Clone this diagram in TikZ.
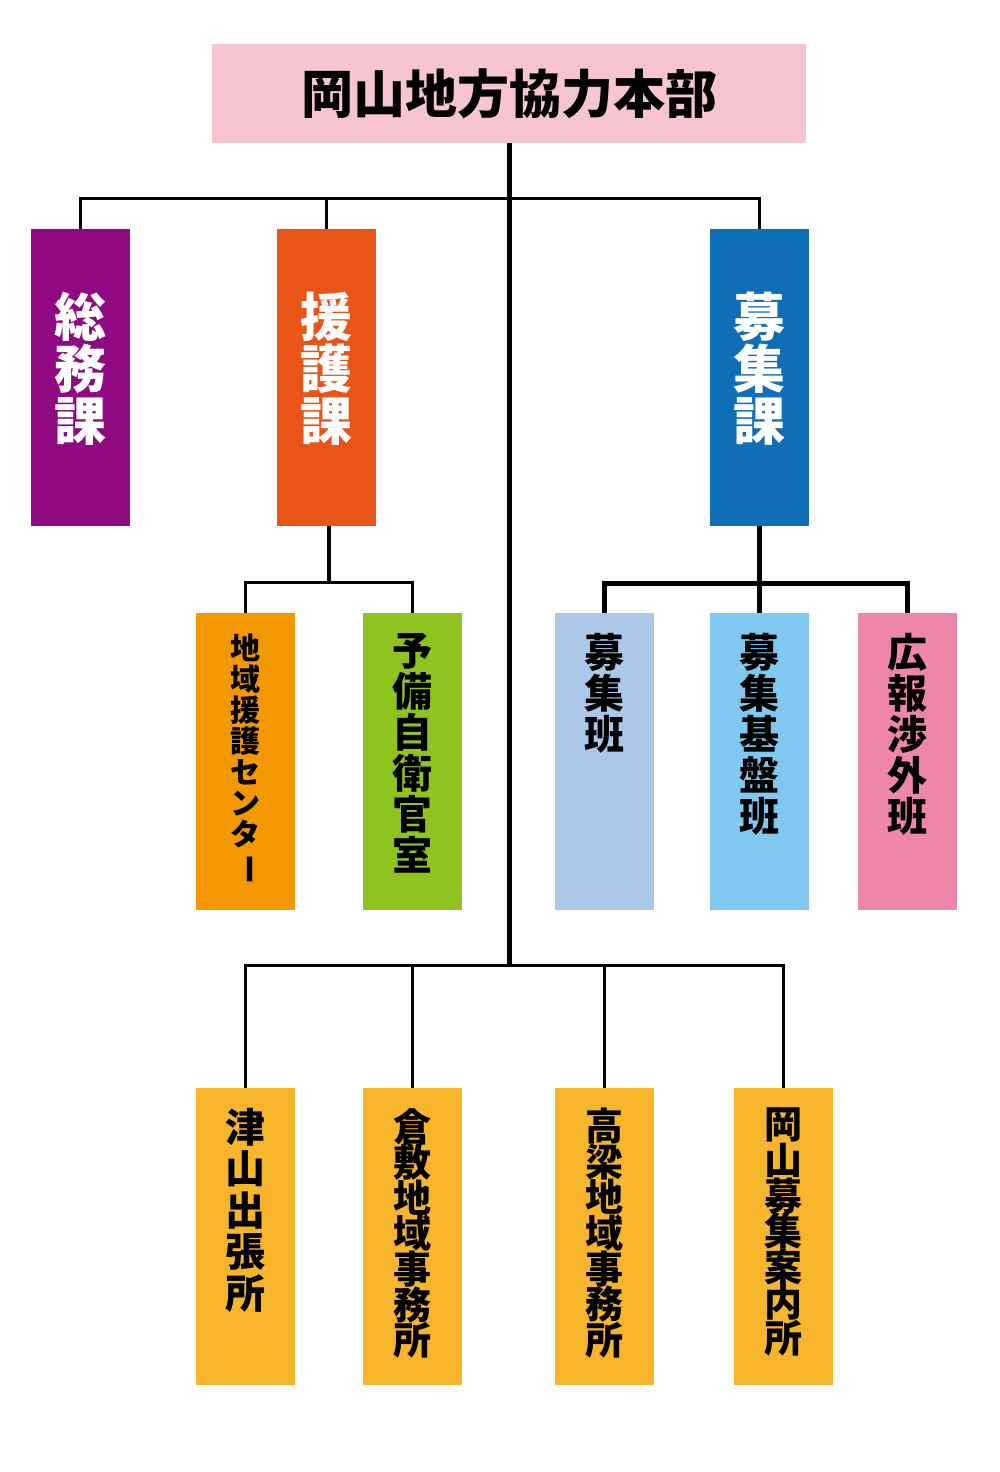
\documentclass[tikz,border=0pt]{standalone}
\usepackage{fontspec}
\newfontfamily\cjk{Noto Sans CJK JP}
\usetikzlibrary{positioning}
\setlength{\lineskiplimit}{-100pt}

\definecolor{hqpink}{HTML}{F7C5D0}
\definecolor{soumucol}{HTML}{8F0A81}
\definecolor{engocol}{HTML}{E95516}
\definecolor{boshucol}{HTML}{0F6EB6}
\definecolor{chiikicol}{HTML}{F39800}
\definecolor{yobicol}{HTML}{8FC31F}
\definecolor{hancol}{HTML}{ABC8E8}
\definecolor{kibancol}{HTML}{80C8F0}
\definecolor{kohocol}{HTML}{EE86A7}
\definecolor{jimucol}{HTML}{F7B52C}

\newcommand{\tatefont}[2]{\cjk\bfseries\fontsize{#1}{#2}\selectfont}

\begin{document}
\begin{tikzpicture}[x=1pt,y=-1pt,
    unit/.style={rectangle, anchor=north, inner sep=0pt, minimum width=99pt, minimum height=297pt},
    tate/.style={anchor=north, align=center, inner sep=0pt},
    link/.style={line width=3pt},
    boldlink/.style={line width=5pt}]
    \useasboundingbox [fill=white] (0,0) rectangle (1000,1472);

    % honbu
    \node [rectangle, fill=hqpink, anchor=north, inner sep=0pt,
        minimum width=594pt, minimum height=99pt,
        font=\tatefont{52}{52}] (honbu) at (509,44) {岡山地方協力本部};

    % ka
    \node [unit, fill=soumucol] (soumu) at (80.5,229) {};
    \node [unit, fill=engocol] (engo) at (326,229) {};
    \node [unit, fill=boshucol] (boshu) at (759.5,229) {};
    \foreach \k/\t in {soumu/総\\務\\課, engo/援\\護\\課, boshu/募\\集\\課}{
            \node [tate, text=white, font=\tatefont{52}{52}] (\k-txt) at ([yshift=-63pt]\k.north) {\t};
        }

    % han, shitsu
    \node [unit, fill=chiikicol] (chiiki) at (245.5,613) {};
    \node [unit, fill=yobicol] (yobi) at (412.5,613) {};
    \node [unit, fill=hancol] (boshuhan) at (604.5,613) {};
    \node [unit, fill=kibancol] (kiban) at (759.5,613) {};
    \node [unit, fill=kohocol] (koho) at (907.5,613) {};
    \node [tate, font=\tatefont{30}{31}] (chiiki-txt) at ([yshift=-21pt]chiiki.north)
        {地\\域\\援\\護\\セ\\ン\\タ\\\rotatebox[origin=c]{-90}{ー}};
    \foreach \k/\t in {yobi/予\\備\\自\\衛\\官\\室, boshuhan/募\\集\\班,
            kiban/募\\集\\基\\盤\\班, koho/広\\報\\渉\\外\\班}{
            \node [tate, font=\tatefont{40}{41}] (\k-txt) at ([yshift=-20pt]\k.north) {\t};
        }

    % jimusho
    \foreach \k/\x in {tsuyama/245.5, kurashiki/412.5, takahashi/604.5, okayama/783.5}{
            \node [unit, fill=jimucol] (\k) at (\x,1088) {};
        }
    \node [tate, font=\tatefont{40}{41.4}] (tsuyama-txt) at ([yshift=-20pt]tsuyama.north) {津\\山\\出\\張\\所};
    \foreach \k/\t in {kurashiki/倉\\敷\\地\\域\\事\\務\\所, takahashi/高\\梁\\地\\域\\事\\務\\所,
            okayama/岡\\山\\募\\集\\案\\内\\所}{
            \node [tate, font=\tatefont{38}{35.6}] (\k-txt) at ([yshift=-20pt]\k.north) {\t};
        }

    % lines
    \coordinate (bus1) at (509,198);
    \coordinate (bus2a) at (328.5,582);
    \coordinate (bus2b) at (759.5,583);
    \coordinate (bus3) at (509,965);
    \draw [boldlink] (honbu.south) -- (bus3);
    \draw [link] (soumu.north) |- (bus1) -| (boshu.north);
    \draw [link] (engo.north) -- (engo.north |- bus1);
    \draw [link, line width=4pt] (engo.south -| bus2a) -- (bus2a);
    \draw [link] (chiiki.north) |- (bus2a) -| (yobi.north);
    \draw [boldlink] (boshu.south) -- (kiban.north);
    \draw [boldlink] (boshuhan.north) |- (bus2b) -| (koho.north);
    \draw [link] (tsuyama.north) |- (bus3) -| (okayama.north);
    \draw [link] (kurashiki.north) -- (kurashiki.north |- bus3);
    \draw [link] (takahashi.north) -- (takahashi.north |- bus3);
\end{tikzpicture}
\end{document}
